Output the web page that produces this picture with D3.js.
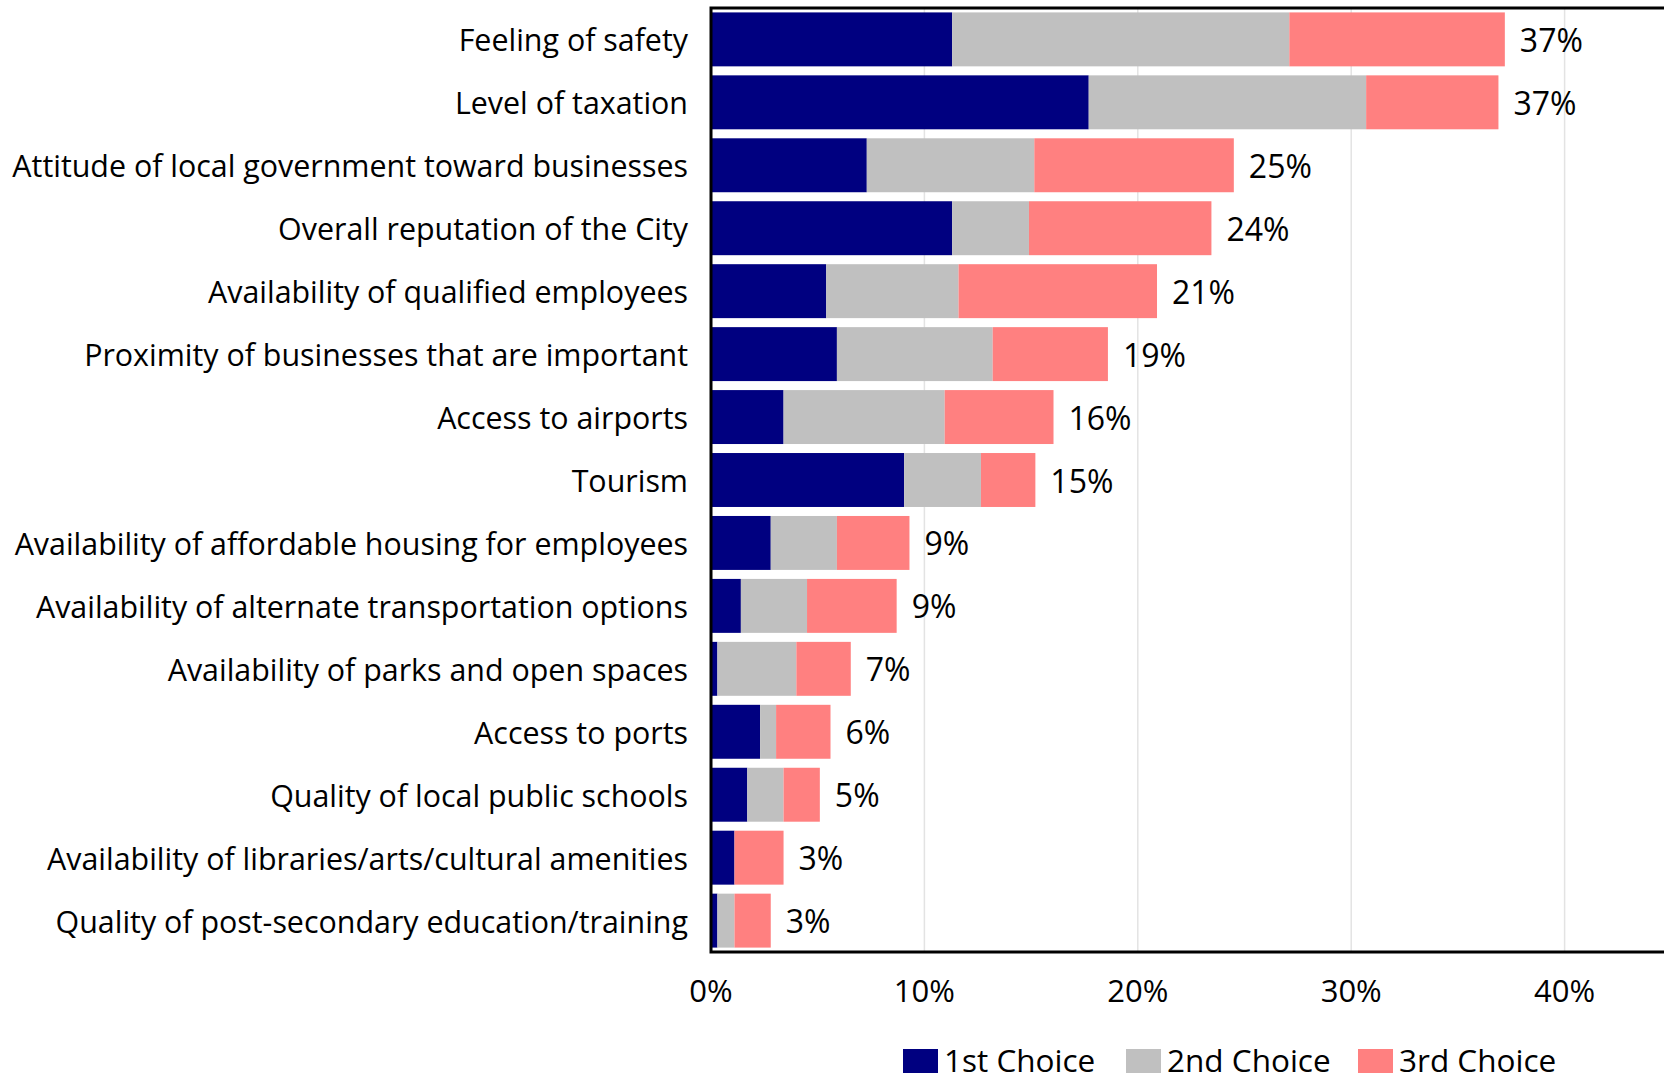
<!doctype html>
<html lang="en">
<head>
<meta charset="utf-8">
<title>Location factors</title>
<script src="https://cdn.jsdelivr.net/npm/d3@7"></script>
<style>
    body { margin: 0; background: #fff; }
    svg text { font-family: "Open Sans", sans-serif; fill: #000; }
</style>
</head>
<body>
<svg id="chart" width="1664" height="1080"></svg>
<script>
    const categories = [
        "Feeling of safety",
        "Level of taxation",
        "Attitude of local government toward businesses",
        "Overall reputation of the City",
        "Availability of qualified employees",
        "Proximity of businesses that are important",
        "Access to airports",
        "Tourism",
        "Availability of affordable housing for employees",
        "Availability of alternate transportation options",
        "Availability of parks and open spaces",
        "Access to ports",
        "Quality of local public schools",
        "Availability of libraries/arts/cultural amenities",
        "Quality of post-secondary education/training"
    ];
    const seriesNames = ["1st Choice", "2nd Choice", "3rd Choice"];
    const first  = [11.3, 17.7, 7.3, 11.3, 5.4, 5.9, 3.4, 9.05, 2.8, 1.4, 0.3, 2.3, 1.7, 1.1, 0.3];
    const second = [15.8, 13.0, 7.85, 3.6, 6.2, 7.3, 7.55, 3.6, 3.1, 3.1, 3.7, 0.75, 1.7, 0, 0.8];
    const third  = [10.1, 6.2, 9.35, 8.55, 9.3, 5.4, 5.1, 2.55, 3.4, 4.2, 2.55, 2.55, 1.7, 2.3, 1.7];
    const totalLabels = ["37%", "37%", "25%", "24%", "21%", "19%", "16%", "15%", "9%", "9%", "7%", "6%", "5%", "3%", "3%"];
    const xTicks = [0, 10, 20, 30, 40];
    const colors = ["#000080", "#c0c0c0", "#ff8080"];

    const svg = d3.select("#chart");
    const plotLeft = 711, plotTop = 8, plotBottom = 952;

    const x = d3.scaleLinear().domain([0, 50]).range([plotLeft, plotLeft + 1067]);
    const y = d3.scaleBand().domain(categories).range([plotTop, plotBottom])
        .paddingInner(0.143).paddingOuter(0.07);

    // gridlines
    svg.append("g")
        .selectAll("line")
        .data(xTicks.filter(d => d > 0))
        .enter().append("line")
        .attr("x1", d => x(d)).attr("x2", d => x(d))
        .attr("y1", plotTop).attr("y2", plotBottom)
        .attr("stroke", "#e3e3e3").attr("stroke-width", 1.5);

    const rows = categories.map((c, i) => ({cat: c, vals: [first[i], second[i], third[i]], label: totalLabels[i]}));

    rows.forEach(r => {
        let acc = 0;
        r.vals.forEach((v, k) => {
            if (v > 0) {
                svg.append("rect")
                    .attr("x", x(acc))
                    .attr("y", y(r.cat))
                    .attr("width", x(acc + v) - x(acc))
                    .attr("height", y.bandwidth())
                    .attr("fill", colors[k]);
            }
            acc += v;
        });
        r.end = acc;
    });

    // value labels
    svg.append("g")
        .selectAll("text")
        .data(rows)
        .enter().append("text")
        .attr("x", d => x(d.end) + 15)
        .attr("y", d => y(d.cat) + y.bandwidth() / 2 + 1)
        .attr("dy", "0.36em")
        .style("font-size", "32px")
        .text(d => d.label);

    // category labels
    svg.append("g")
        .selectAll("text")
        .data(categories)
        .enter().append("text")
        .attr("x", plotLeft - 23)
        .attr("y", d => y(d) + y.bandwidth() / 2 + 1)
        .attr("dy", "0.36em")
        .attr("text-anchor", "end")
        .style("font-size", "30.4px")
        .text(d => d);

    // frame
    svg.append("path")
        .attr("d", "M" + 1700 + "," + plotTop + "H" + plotLeft + "V" + plotBottom + "H" + 1700)
        .attr("fill", "none")
        .attr("stroke", "#000")
        .attr("stroke-width", 3);

    // x tick labels
    svg.append("g")
        .selectAll("text")
        .data(xTicks)
        .enter().append("text")
        .attr("x", d => x(d))
        .attr("y", 991)
        .attr("dy", "0.36em")
        .attr("text-anchor", "middle")
        .style("font-size", "31px")
        .text(d => d + "%");

    // legend
    const legendX = [903, 1126, 1358];
    const lg = svg.append("g").selectAll("g")
        .data(seriesNames)
        .enter().append("g")
        .attr("transform", (d, i) => "translate(" + legendX[i] + ",1049)");
    lg.append("rect").attr("width", 35).attr("height", 24).attr("fill", (d, i) => colors[i]);
    lg.append("text").attr("x", 41).attr("y", 23)
        .style("font-size", "31.5px").text(d => d);
</script>
</body>
</html>
